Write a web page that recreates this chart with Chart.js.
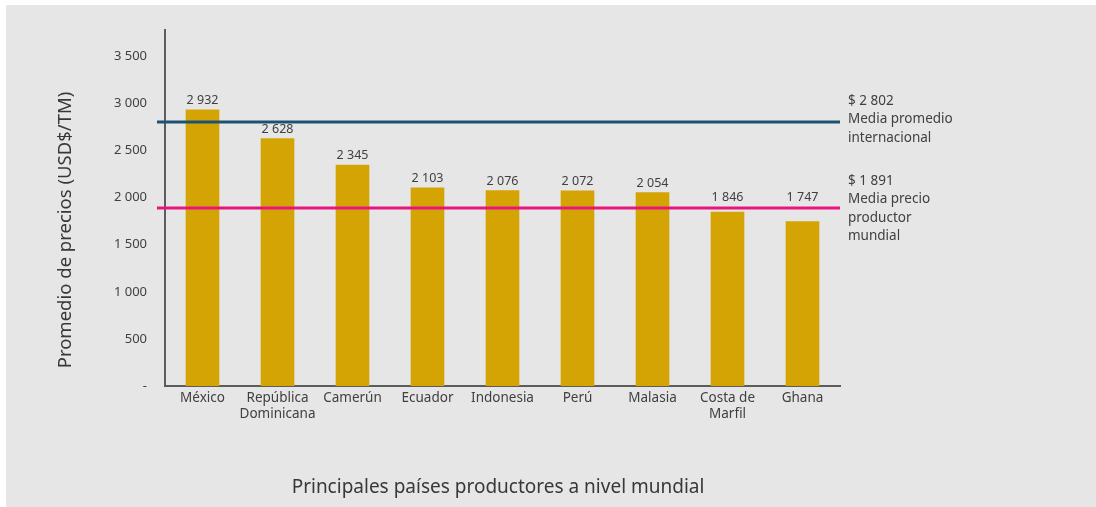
<!DOCTYPE html>
<html>
<head>
<meta charset="utf-8">
<script src="https://cdn.jsdelivr.net/npm/chart.js@4.4.1/dist/chart.umd.min.js"></script>
<style>
  html, body { margin: 0; padding: 0; background: #ffffff; }
  #wrap { position: relative; width: 1096px; height: 507px; }
</style>
</head>
<body>
<div id="wrap"><canvas id="c" width="1096" height="507"></canvas></div>
<script>
// Precio promedio por país productor (USD$/TM)
const paises = ['México', ['República', 'Dominicana'], 'Camerún', 'Ecuador', 'Indonesia', 'Perú', 'Malasia', ['Costa de', 'Marfil'], 'Ghana'];
const precios = [2932, 2628, 2345, 2103, 2076, 2072, 2054, 1846, 1747];
const marcasEje = [0, 500, 1000, 1500, 2000, 2500, 3000, 3500];

// Medias de referencia
const mediaInternacional = 2802;
const mediaProductor = 1891;
const notaInternacional = ['$ 2 802', 'Media promedio', 'internacional'];
const notaProductor = ['$ 1 891', 'Media precio', 'productor', 'mundial'];

const tituloY = 'Promedio de precios (USD$/TM)';
const tituloX = 'Principales países productores a nivel mundial';

const FUENTE = '"Noto Sans", "Open Sans", sans-serif';
const TEXTO = '#404040';

function miles(v) {
  return String(v).replace(/\B(?=(\d{3})+(?!\d))/g, ' ');
}

const decoracion = {
  id: 'decoracion',
  beforeDraw(chart) {
    const ctx = chart.ctx;
    ctx.save();
    ctx.fillStyle = '#ffffff';
    ctx.fillRect(0, 0, chart.width, chart.height);
    ctx.fillStyle = '#e6e6e6';
    ctx.fillRect(6, 5, chart.width - 6, chart.height - 5);
    ctx.restore();
  },
  afterDatasetsDraw(chart) {
    const ctx = chart.ctx;
    const y = chart.scales.y;
    const area = chart.chartArea;
    ctx.save();

    const lineas = [
      { valor: mediaInternacional, color: '#1d5273', nota: notaInternacional, dy: -21 },
      { valor: mediaProductor, color: '#e8157f', nota: notaProductor, dy: -27 }
    ];
    const pxLineas = lineas.map(l => y.getPixelForValue(l.valor));

    // Etiquetas de valor sobre cada barra; si tocan una línea de media, suben por encima
    ctx.font = '12.5px ' + FUENTE;
    ctx.fillStyle = TEXTO;
    ctx.textAlign = 'center';
    ctx.textBaseline = 'middle';
    chart.getDatasetMeta(0).data.forEach((bar, i) => {
      let ly = bar.y - 9.5;
      pxLineas.forEach(p => {
        if (Math.abs(ly - p) < 6.5) ly = p - 10;
      });
      ctx.fillText(miles(precios[i]), bar.x, ly);
    });

    // Líneas de referencia con su nota
    lineas.forEach((l, j) => {
      const py = pxLineas[j];
      ctx.strokeStyle = l.color;
      ctx.lineWidth = 3;
      ctx.beginPath();
      ctx.moveTo(157, py);
      ctx.lineTo(area.right, py);
      ctx.stroke();

      ctx.font = '13.5px ' + FUENTE;
      ctx.fillStyle = TEXTO;
      ctx.textAlign = 'left';
      ctx.textBaseline = 'middle';
      l.nota.forEach((t, k) => {
        ctx.fillText(t, area.right + 8, py + l.dy + k * 18.5);
      });
    });

    // Títulos de los ejes
    ctx.fillStyle = '#383838';
    ctx.textAlign = 'center';
    ctx.textBaseline = 'middle';
    ctx.font = '19px ' + FUENTE;
    ctx.fillText(tituloX, 498, 488);
    ctx.save();
    ctx.translate(66, 230);
    ctx.rotate(-Math.PI / 2);
    ctx.font = '18.5px ' + FUENTE;
    ctx.fillText(tituloY, 0, 0);
    ctx.restore();

    ctx.restore();
  }
};

new Chart(document.getElementById('c'), {
  type: 'bar',
  data: {
    labels: paises,
    datasets: [{
      data: precios,
      backgroundColor: '#d4a404',
      borderWidth: 0,
      barThickness: 33
    }]
  },
  options: {
    responsive: false,
    animation: false,
    devicePixelRatio: 1,
    layout: { padding: { top: 30, right: 256, bottom: 0, left: 0 } },
    plugins: {
      legend: { display: false },
      tooltip: { enabled: false }
    },
    scales: {
      x: {
        grid: { display: false, drawTicks: false },
        border: { display: true, color: '#5c5c5c', width: 2 },
        ticks: {
          color: TEXTO,
          padding: 4,
          maxRotation: 0,
          autoSkip: false,
          font: { family: FUENTE, size: 13.5, lineHeight: 1.2 }
        },
        afterFit(scale) { scale.height = 121; }
      },
      y: {
        min: 0,
        max: 3780,
        grid: { display: false, drawTicks: false },
        border: { display: true, color: '#5c5c5c', width: 2 },
        afterBuildTicks(scale) {
          scale.ticks = marcasEje.map(v => ({ value: v }));
        },
        ticks: {
          color: TEXTO,
          padding: 18,
          font: { family: FUENTE, size: 13 },
          callback: v => (v === 0 ? '-' : miles(v))
        },
        afterFit(scale) { scale.width = 165; }
      }
    }
  },
  plugins: [decoracion]
});
</script>
</body>
</html>
